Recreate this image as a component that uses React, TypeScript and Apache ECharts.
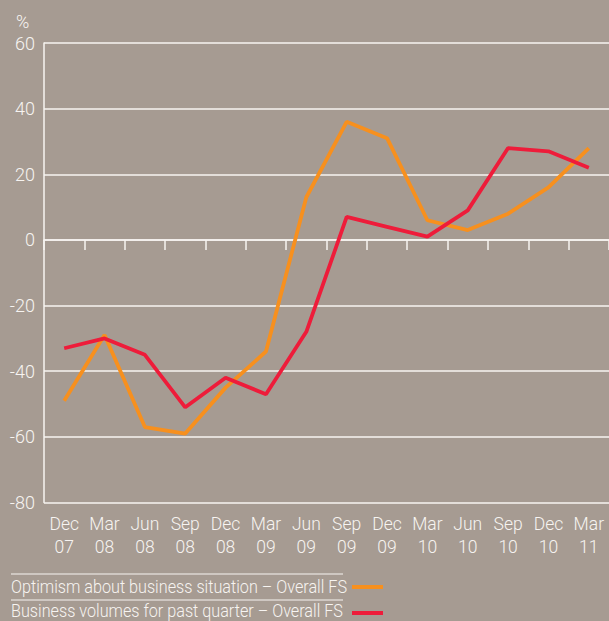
import React, { useEffect, useRef } from "react";
import * as echarts from "echarts";

const categories = ["Dec\n07", "Mar\n08", "Jun\n08", "Sep\n08", "Dec\n08", "Mar\n09", "Jun\n09", "Sep\n09", "Dec\n09", "Mar\n10", "Jun\n10", "Sep\n10", "Dec\n10", "Mar\n11"];
const optimism = [-49, -29, -57, -59, -45, -34, 13, 36, 31, 6, 3, 8, 16, 28];
const volumes = [-33, -30, -35, -51, -42, -47, -28, 7, 4, 1, 9, 28, 27, 22];
const seriesNames = ["Optimism about business situation – Overall FS", "Business volumes for past quarter – Overall FS"];
const yTicks = { min: -80, max: 60, interval: 20 };

const BG = "#a69b92";
const ORANGE = "#f7901e";
const RED = "#ee1c3a";
const WHITE = "#f7f4f1";
const FONT = "Roboto, 'Liberation Sans', Arial, sans-serif";

export default function App() {
  const ref = useRef<HTMLDivElement>(null);
  useEffect(() => {
    if (!ref.current) return;
    const chart = echarts.init(ref.current, null, { renderer: "svg" });
    chart.setOption({
      animation: false,
      backgroundColor: BG,
      textStyle: { fontFamily: FONT, fontWeight: 300 },
      grid: { left: 44, right: 0, top: 43, bottom: 118.5 },
      xAxis: [
        {
          type: "category",
          data: categories,
          position: "bottom",
          boundaryGap: true,
          axisLine: { show: false, onZero: false },
          axisTick: { show: false },
          axisLabel: { color: WHITE, fontSize: 17.5, lineHeight: 23, margin: 10, fontFamily: FONT, fontWeight: 300, interval: 0 },
          splitLine: { show: false },
        },
        {
          type: "category",
          data: categories,
          position: "bottom",
          boundaryGap: true,
          axisLine: { show: true, onZero: true, lineStyle: { color: WHITE, width: 1.5 } },
          axisTick: { show: true, length: 10, lineStyle: { color: WHITE, width: 1.5 } },
          axisLabel: { show: false },
          splitLine: { show: false },
        },
      ],
      yAxis: {
        type: "value",
        min: yTicks.min,
        max: yTicks.max,
        interval: yTicks.interval,
        axisLine: { show: true, lineStyle: { color: WHITE, width: 1.5 } },
        axisTick: { show: false },
        axisLabel: { color: WHITE, fontSize: 18, margin: 9, fontFamily: FONT, fontWeight: 300 },
        splitLine: { show: true, lineStyle: { color: WHITE, width: 1.5 } },
      },
      series: [
        {
          name: seriesNames[0],
          type: "line",
          data: optimism,
          xAxisIndex: 0,
          symbol: "none",
          lineStyle: { color: ORANGE, width: 3.8 },
          itemStyle: { color: ORANGE },
        },
        {
          name: seriesNames[1],
          type: "line",
          data: volumes,
          xAxisIndex: 0,
          symbol: "none",
          lineStyle: { color: RED, width: 3.8 },
          itemStyle: { color: RED },
        },
      ],
      graphic: [
        { type: "text", left: 16, top: 12, style: { text: "%", fill: WHITE, font: `300 18px ${FONT}` } },
        { type: "line", shape: { x1: 11, y1: 574, x2: 343, y2: 574 }, style: { stroke: WHITE, lineWidth: 1 } },
        { type: "line", shape: { x1: 11, y1: 600, x2: 343, y2: 600 }, style: { stroke: WHITE, lineWidth: 1 } },
        { type: "text", x: 11, y: 587, scaleX: 0.9, style: { text: seriesNames[0], fill: WHITE, font: `300 18px ${FONT}`, verticalAlign: "middle" } },
        { type: "text", x: 11, y: 611, scaleX: 0.9, style: { text: seriesNames[1], fill: WHITE, font: `300 18px ${FONT}`, verticalAlign: "middle" } },
        { type: "rect", shape: { x: 352, y: 585, width: 31, height: 4 }, style: { fill: ORANGE } },
        { type: "rect", shape: { x: 352, y: 611, width: 31, height: 4 }, style: { fill: RED } },
      ],
    });
    return () => chart.dispose();
  }, []);
  return <div ref={ref} style={{ position: "fixed", left: 0, top: 0, width: 609, height: 621 }} />;
}
